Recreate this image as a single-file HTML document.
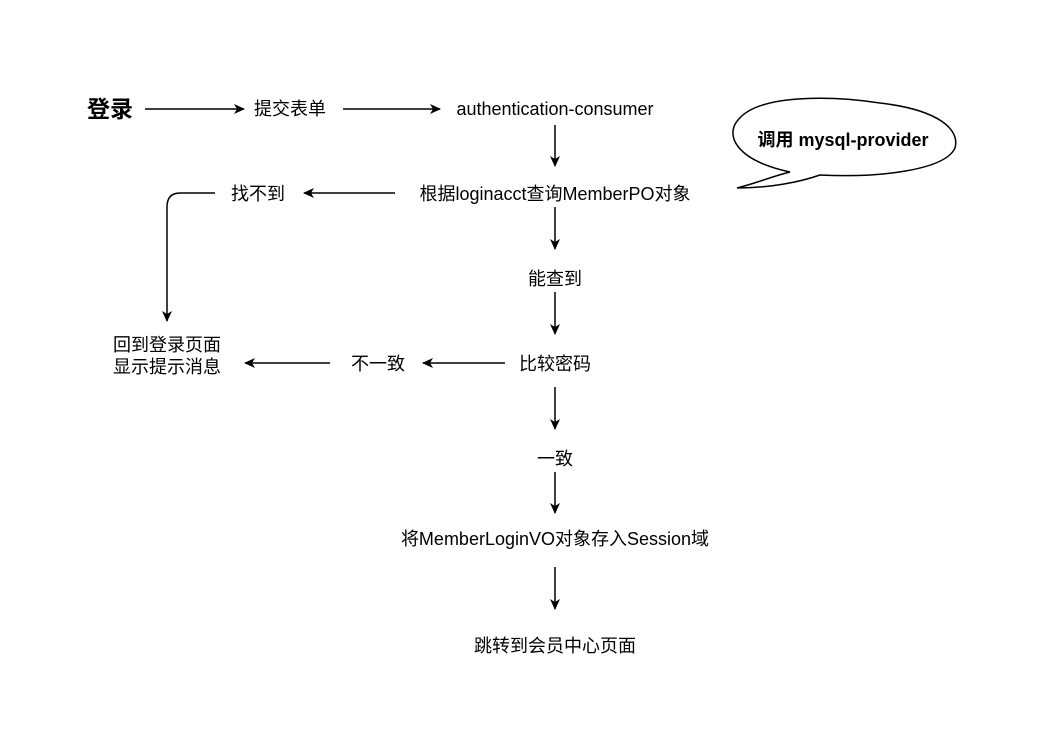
<!DOCTYPE html>
<html><head><meta charset="utf-8"><style>
html,body{margin:0;padding:0;background:#fff;}
svg{display:block;}
text{font-family:"Liberation Sans","Noto Sans CJK SC",sans-serif;font-size:18px;fill:#000;}
</style></head><body>
<svg width="1041" height="737" viewBox="0 0 1041 737" xmlns="http://www.w3.org/2000/svg">
<defs>
<marker id="a" markerWidth="12" markerHeight="10" refX="10" refY="5" orient="auto" markerUnits="userSpaceOnUse">
<path d="M0,0 L11,5 L0,10 L3,5 Z" fill="#000"/>
</marker>
</defs>
<g stroke="#000" stroke-width="1.5" fill="none" marker-end="url(#a)">
<line x1="145" y1="109" x2="244" y2="109"/>
<line x1="343" y1="109" x2="440" y2="109"/>
<line x1="555" y1="125" x2="555" y2="166"/>
<line x1="395" y1="193" x2="304" y2="193"/>
<path d="M215,193 L180,193 Q167,193 167,207 L167,321"/>
<line x1="555" y1="207" x2="555" y2="249"/>
<line x1="555" y1="292" x2="555" y2="334"/>
<line x1="505" y1="363" x2="423" y2="363"/>
<line x1="330" y1="363" x2="245" y2="363"/>
<line x1="555" y1="387" x2="555" y2="429"/>
<line x1="555" y1="472" x2="555" y2="513"/>
<line x1="555" y1="567" x2="555" y2="609"/>
</g>
<path d="M790,172 C735,160 725,135 738,120 C760,92 840,97 880,103 C940,110 960,130 955,148 C945,170 880,178 820,175 C800,182 770,188 737,188 C760,182 770,177 790,172 Z" fill="#fff" stroke="#000" stroke-width="1.5"/>
<text x="843" y="146" text-anchor="middle" font-weight="bold" style="font-size:18px">调用 mysql-provider</text>
<text x="110" y="117" text-anchor="middle" font-weight="bold" style="font-size:23px">登录</text>
<text x="290" y="115" text-anchor="middle">提交表单</text>
<text x="555" y="115" text-anchor="middle">authentication-consumer</text>
<text x="555" y="200" text-anchor="middle">根据loginacct查询MemberPO对象</text>
<text x="258" y="200" text-anchor="middle">找不到</text>
<text x="167" y="351" text-anchor="middle">回到登录页面</text>
<text x="167" y="373" text-anchor="middle">显示提示消息</text>
<text x="555" y="285" text-anchor="middle">能查到</text>
<text x="555" y="370" text-anchor="middle">比较密码</text>
<text x="378" y="370" text-anchor="middle">不一致</text>
<text x="555" y="465" text-anchor="middle">一致</text>
<text x="555" y="545" text-anchor="middle">将MemberLoginVO对象存入Session域</text>
<text x="555" y="652" text-anchor="middle">跳转到会员中心页面</text>
</svg>
</body></html>
